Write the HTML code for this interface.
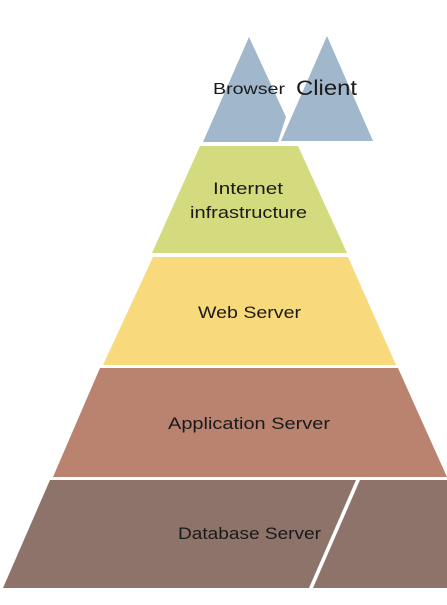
<!DOCTYPE html>
<html><head><style>html,body{margin:0;padding:0;background:#fff;}svg{display:block}</style></head>
<body>
<svg width="447" height="605" viewBox="0 0 447 605" xmlns="http://www.w3.org/2000/svg" font-family="Liberation Sans, sans-serif" fill="#1a1a1a">
<polygon points="249,37 286,117 278,142 203,142" fill="#a0b7cc"/>
<polygon points="327,36 373,141 281,141" fill="#a0b7cc"/>
<polygon points="200,146 298,146 347,253 152,253" fill="#d4db7e"/>
<polygon points="153,257 348,257 396,365 103,365" fill="#f8d97b"/>
<polygon points="100,368 398,368 447,477 53,477" fill="#b98370"/>
<polygon points="50,480 356,480 309,588 3,588" fill="#8d7369"/>
<polygon points="360,480 447,480 447,588 313,588" fill="#8d7369"/>
<text x="213" y="94" font-size="16" textLength="72" lengthAdjust="spacingAndGlyphs">Browser</text>
<text x="296" y="95" font-size="21" textLength="61" lengthAdjust="spacingAndGlyphs">Client</text>
<text x="213" y="194" font-size="17" textLength="70" lengthAdjust="spacingAndGlyphs">Internet</text>
<text x="190" y="218" font-size="17" textLength="117" lengthAdjust="spacingAndGlyphs">infrastructure</text>
<text x="198" y="318" font-size="17" textLength="103" lengthAdjust="spacingAndGlyphs">Web Server</text>
<text x="168" y="429" font-size="17" textLength="162" lengthAdjust="spacingAndGlyphs">Application Server</text>
<text x="178" y="539" font-size="17" textLength="143" lengthAdjust="spacingAndGlyphs">Database Server</text>
</svg>
</body></html>
